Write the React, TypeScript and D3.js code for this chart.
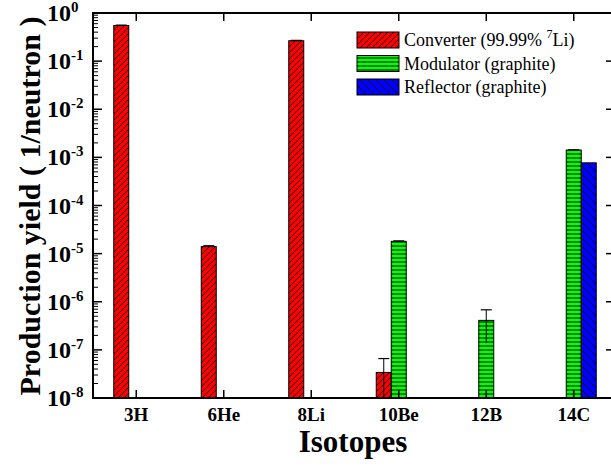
import { useEffect, useRef } from 'react'
import * as d3 from 'd3'

// isotopes on the x axis
const isotopes = ['3H', '6He', '8Li', '10Be', '12B', '14C']

// production yields (1/neutron), null = no bar
const converter = [0.55, 1.4e-5, 0.265, 3.4e-8, null, null]
const converterErr = [0.01, 6e-7, 0.005, 3.2e-8, null, null]
const modulator = [null, null, null, 1.8e-5, 4.1e-7, 1.42e-3]
const modulatorErr = [null, null, null, 4e-7, 2.7e-7, 0.00002]
const reflector = [null, null, null, null, null, 7.7e-4]
const reflectorErr = [null, null, null, null, null, null]

const seriesNames = ['Converter (99.99% ', 'Modulator (graphite)', 'Reflector (graphite)']
const yTicks = [1, 1e-1, 1e-2, 1e-3, 1e-4, 1e-5, 1e-6, 1e-7, 1e-8]

const App = () => {
  const ref = useRef<SVGSVGElement | null>(null)

  useEffect(() => {
    const svg = d3.select(ref.current)
    svg.selectAll('*').remove()

    const left = 93, right = 613, top = 13, bottom = 398
    const font = "'Liberation Serif', 'Times New Roman', serif"

    const y = d3.scaleLog().domain([1e-8, 1]).range([bottom, top])
    const x = d3.scalePoint().domain(isotopes).range([92.5, 617.5]).padding(0.5)
    const bw = 15

    // hatch patterns
    const defs = svg.append('defs')
    const red = defs.append('pattern').attr('id', 'hRed').attr('patternUnits', 'userSpaceOnUse')
      .attr('width', 6).attr('height', 6)
    red.append('rect').attr('width', 6).attr('height', 6).attr('fill', '#ff0000')
    red.append('path').attr('d', 'M0,6L6,0M-1,1L1,-1M5,7L7,5').attr('stroke', '#000').attr('stroke-width', 0.9)

    const green = defs.append('pattern').attr('id', 'hGreen').attr('patternUnits', 'userSpaceOnUse')
      .attr('width', 4).attr('height', 4)
    green.append('rect').attr('width', 4).attr('height', 4).attr('fill', '#00ff00')
    green.append('path').attr('d', 'M0,2L4,2').attr('stroke', '#000').attr('stroke-width', 1)

    const blue = defs.append('pattern').attr('id', 'hBlue').attr('patternUnits', 'userSpaceOnUse')
      .attr('width', 8).attr('height', 8)
    blue.append('rect').attr('width', 8).attr('height', 8).attr('fill', '#0000ff')
    blue.append('path').attr('d', 'M0,0L8,8M-1,7L1,9M7,-1L9,1').attr('stroke', '#000').attr('stroke-width', 0.9)

    const series = [
      { vals: converter, errs: converterErr, fill: 'url(#hRed)', off: -bw },
      { vals: modulator, errs: modulatorErr, fill: 'url(#hGreen)', off: 0 },
      { vals: reflector, errs: reflectorErr, fill: 'url(#hBlue)', off: bw },
    ]

    const plot = svg.append('g')
    svg.append('clipPath').attr('id', 'clip').append('rect')
      .attr('x', left).attr('y', top).attr('width', right - left).attr('height', bottom - top)
    plot.attr('clip-path', 'url(#clip)')

    series.forEach(s => {
      s.vals.forEach((v, i) => {
        if (v == null) return
        const cx = (x(isotopes[i]) as number) + s.off
        plot.append('rect')
          .attr('x', cx - bw / 2).attr('y', y(v))
          .attr('width', bw).attr('height', bottom - y(v))
          .attr('fill', s.fill).attr('stroke', '#000').attr('stroke-width', 1)
        const e = s.errs[i]
        if (e) {
          const lo = v - e > 1e-9 ? y(v - e) : bottom + 5
          plot.append('line').attr('x1', cx).attr('x2', cx)
            .attr('y1', y(v + e)).attr('y2', lo).attr('stroke', '#000').attr('stroke-width', 1)
          plot.append('line').attr('x1', cx - 5.5).attr('x2', cx + 5.5)
            .attr('y1', y(v + e)).attr('y2', y(v + e)).attr('stroke', '#000').attr('stroke-width', 1.2)
        }
      })
    })

    // frame
    svg.append('rect').attr('x', left).attr('y', top).attr('width', right - left).attr('height', bottom - top)
      .attr('fill', 'none').attr('stroke', '#000').attr('stroke-width', 2)

    // log ticks left (major + minor), right (major)
    for (let p = -8; p <= 0; p++) {
      const yy = y(Math.pow(10, p))
      svg.append('line').attr('x1', left).attr('x2', left + 9).attr('y1', yy).attr('y2', yy)
        .attr('stroke', '#000').attr('stroke-width', 1.5)
      svg.append('line').attr('x1', right - 7).attr('x2', right).attr('y1', yy).attr('y2', yy)
        .attr('stroke', '#000').attr('stroke-width', 1.5)
      if (p < 0) {
        for (let m = 2; m <= 9; m++) {
          const ym = y(m * Math.pow(10, p))
          svg.append('line').attr('x1', left).attr('x2', left + 5).attr('y1', ym).attr('y2', ym)
            .attr('stroke', '#000').attr('stroke-width', 1)
        }
      }
    }

    // x ticks bottom and top
    isotopes.forEach(d => {
      const xx = x(d) as number
      svg.append('line').attr('x1', xx).attr('x2', xx).attr('y1', bottom).attr('y2', bottom - 8)
        .attr('stroke', '#000').attr('stroke-width', 1.5)
      svg.append('line').attr('x1', xx).attr('x2', xx).attr('y1', top).attr('y2', top + 8)
        .attr('stroke', '#000').attr('stroke-width', 1.5)
      svg.append('text').attr('x', xx).attr('y', 421).attr('text-anchor', 'middle')
        .style('font-family', font).style('font-weight', 'bold').style('font-size', '19px')
        .text(d)
    })

    // y tick labels 10^n
    yTicks.forEach(t => {
      const p = Math.round(Math.log10(t))
      const tx = svg.append('text').attr('x', 47).attr('y', y(t) + 8)
        .style('font-family', font).style('font-weight', 'bold').style('font-size', '24px')
      tx.append('tspan').text('10')
      tx.append('tspan').style('font-size', '15px').attr('dy', -9).text(String(p))
    })

    // axis titles
    svg.append('text').attr('x', 353).attr('y', 452).attr('text-anchor', 'middle')
      .style('font-family', font).style('font-weight', 'bold').style('font-size', '31px')
      .text('Isotopes')
    svg.append('text').attr('transform', 'translate(40,206) rotate(-90)').attr('text-anchor', 'middle')
      .style('font-family', font).style('font-weight', 'bold').style('font-size', '30px')
      .text('Production yield ( 1/neutron )')

    // legend
    const fills = ['url(#hRed)', 'url(#hGreen)', 'url(#hBlue)']
    seriesNames.forEach((n, i) => {
      const ly = 32 + i * 23.5
      svg.append('rect').attr('x', 357).attr('y', ly).attr('width', 42).attr('height', 16)
        .attr('fill', fills[i]).attr('stroke', '#000').attr('stroke-width', 1)
      const t = svg.append('text').attr('x', 404).attr('y', ly + 14)
        .style('font-family', font).style('font-size', '18px').text(n)
      if (i === 0) {
        t.append('tspan').style('font-size', '12px').attr('dy', -8).text('7')
        t.append('tspan').attr('dy', 8).text('Li)')
      }
    })
  }, [])

  return (
    <svg ref={ref} width={611} height={466} style={{ position: 'absolute', left: 0, top: 0, background: '#fff' }} />
  )
}

export default App
